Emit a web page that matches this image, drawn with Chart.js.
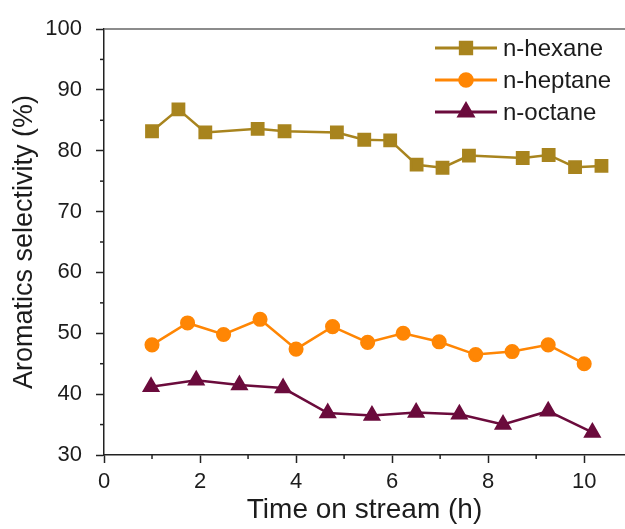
<!DOCTYPE html>
<html lang="en">
<head>
    <meta charset="UTF-8">
    <title>Aromatics selectivity</title>
    <style>
        body { margin: 0; background: #fff; }
        #wrap { width: 625px; height: 529px; }
    </style>
</head>
<body>
    <div id="wrap">
        <canvas id="selChart" width="625" height="529"></canvas>
    </div>

    <script src="https://cdn.jsdelivr.net/npm/chart.js"></script>
    <script>
        // values
        const hexaneTime = [1.00, 1.55, 2.11, 3.20, 3.76, 4.85, 5.42, 5.96, 6.51, 7.05, 7.60, 8.72, 9.26, 9.81, 10.36];
        const hexaneSel = [83.2, 86.8, 83.0, 83.6, 83.2, 83.0, 81.8, 81.7, 77.7, 77.2, 79.2, 78.8, 79.3, 77.3, 77.5];

        const heptaneTime = [1.00, 1.74, 2.49, 3.25, 4.00, 4.76, 5.49, 6.23, 6.98, 7.74, 8.50, 9.25, 10.00];
        const heptaneSel = [48.1, 51.7, 49.8, 52.3, 47.4, 51.1, 48.5, 50.0, 48.6, 46.5, 47.0, 48.1, 45.0];

        const octaneTime = [0.98, 1.92, 2.82, 3.73, 4.66, 5.58, 6.50, 7.40, 8.31, 9.25, 10.17];
        const octaneSel = [41.2, 42.3, 41.5, 41.0, 36.9, 36.5, 37.0, 36.7, 35.0, 37.2, 33.7];

        const seriesNames = ['n-hexane', 'n-heptane', 'n-octane'];
        const xMinorTicks = [1, 3, 5, 7, 9];
        const yMinorTicks = [35, 45, 55, 65, 75, 85, 95];

        const FONT = "'Liberation Sans', Arial, sans-serif";
        const TEXT = '#1c1c1c';

        function toPoints(xs, ys) {
            return xs.map((x, i) => ({ x: x, y: ys[i] }));
        }

        // small ticks between the labelled ones + top frame line
        const framePlugin = {
            id: 'frame',
            afterDraw(chart) {
                const ctx = chart.ctx;
                const area = chart.chartArea;
                const xs = chart.scales.x;
                const ys = chart.scales.y;
                ctx.save();
                ctx.strokeStyle = '#222';
                ctx.lineWidth = 1.5;
                xMinorTicks.forEach(v => {
                    const px = xs.getPixelForValue(v);
                    ctx.beginPath();
                    ctx.moveTo(px, area.bottom);
                    ctx.lineTo(px, area.bottom + 4);
                    ctx.stroke();
                });
                yMinorTicks.forEach(v => {
                    const py = ys.getPixelForValue(v);
                    ctx.beginPath();
                    ctx.moveTo(area.left, py);
                    ctx.lineTo(area.left - 4, py);
                    ctx.stroke();
                });
                ctx.strokeStyle = '#666';
                ctx.beginPath();
                ctx.moveTo(area.left, area.top);
                ctx.lineTo(area.right, area.top);
                ctx.stroke();
                ctx.restore();
            }
        };

        // legend inside the plot, line + marker like the original
        const innerLegend = {
            id: 'innerLegend',
            afterDraw(chart) {
                const ctx = chart.ctx;
                const area = chart.chartArea;
                const x0 = area.left + 331;
                ctx.save();
                ctx.font = '24px ' + FONT;
                ctx.textBaseline = 'middle';
                chart.data.datasets.forEach((ds, i) => {
                    const y = area.top + 19 + i * 32;
                    ctx.strokeStyle = ds.borderColor;
                    ctx.lineWidth = 3;
                    ctx.beginPath();
                    ctx.moveTo(x0, y);
                    ctx.lineTo(x0 + 62, y);
                    ctx.stroke();
                    ctx.fillStyle = ds.pointBackgroundColor;
                    ctx.strokeStyle = ds.pointBackgroundColor;
                    Chart.helpers.drawPoint(ctx, {
                        pointStyle: ds.pointStyle,
                        radius: ds.pointRadius,
                        rotation: 0,
                        borderWidth: 1
                    }, x0 + 31, y);
                    ctx.fillStyle = TEXT;
                    ctx.fillText(ds.label, x0 + 68, y + 1);
                });
                ctx.restore();
            }
        };

        function lineSet(label, pts, color, style, radius) {
            return {
                label: label,
                data: pts,
                borderColor: color,
                backgroundColor: color,
                pointBackgroundColor: color,
                pointBorderColor: color,
                borderWidth: 2.5,
                pointStyle: style,
                pointRadius: radius,
                pointHoverRadius: radius,
                tension: 0
            };
        }

        new Chart(document.getElementById('selChart').getContext('2d'), {
            type: 'line',
            data: {
                datasets: [
                    lineSet(seriesNames[0], toPoints(hexaneTime, hexaneSel), '#a8841e', 'rect', 8),
                    lineSet(seriesNames[1], toPoints(heptaneTime, heptaneSel), '#ff8604', 'circle', 6.3),
                    lineSet(seriesNames[2], toPoints(octaneTime, octaneSel), '#6b0b3c', 'triangle', 8)
                ]
            },
            options: {
                responsive: false,
                animation: false,
                layout: { autoPadding: false, padding: { top: 29, right: 0, left: 0, bottom: 0 } },
                plugins: {
                    legend: { display: false },
                    tooltip: { enabled: false }
                },
                scales: {
                    x: {
                        type: 'linear',
                        min: 0,
                        max: 10.85,
                        afterFit(scale) {
                            scale.height = 74;
                            scale.paddingLeft = 0;
                            scale.paddingRight = 0;
                        },
                        border: { color: '#222', width: 1.5 },
                        grid: { drawOnChartArea: false, tickLength: 8, tickColor: '#222', tickWidth: 1.5 },
                        ticks: {
                            stepSize: 2,
                            includeBounds: false,
                            padding: 6,
                            color: TEXT,
                            font: { family: FONT, size: 22 }
                        },
                        title: {
                            display: true,
                            text: 'Time on stream (h)',
                            color: TEXT,
                            padding: { top: 0, bottom: 2 },
                            font: { family: FONT, size: 28 }
                        }
                    },
                    y: {
                        min: 30,
                        max: 100,
                        afterFit(scale) { scale.width = 104; },
                        border: { color: '#222', width: 1.5 },
                        grid: { drawOnChartArea: false, tickLength: 8, tickColor: '#222', tickWidth: 1.5 },
                        ticks: {
                            stepSize: 10,
                            padding: 14,
                            color: TEXT,
                            font: { family: FONT, size: 22 }
                        },
                        title: {
                            display: true,
                            text: 'Aromatics selectivity (%)',
                            color: TEXT,
                            padding: { top: 8, bottom: 0 },
                            font: { family: FONT, size: 27 }
                        }
                    }
                }
            },
            plugins: [framePlugin, innerLegend]
        });
    </script>
</body>
</html>
